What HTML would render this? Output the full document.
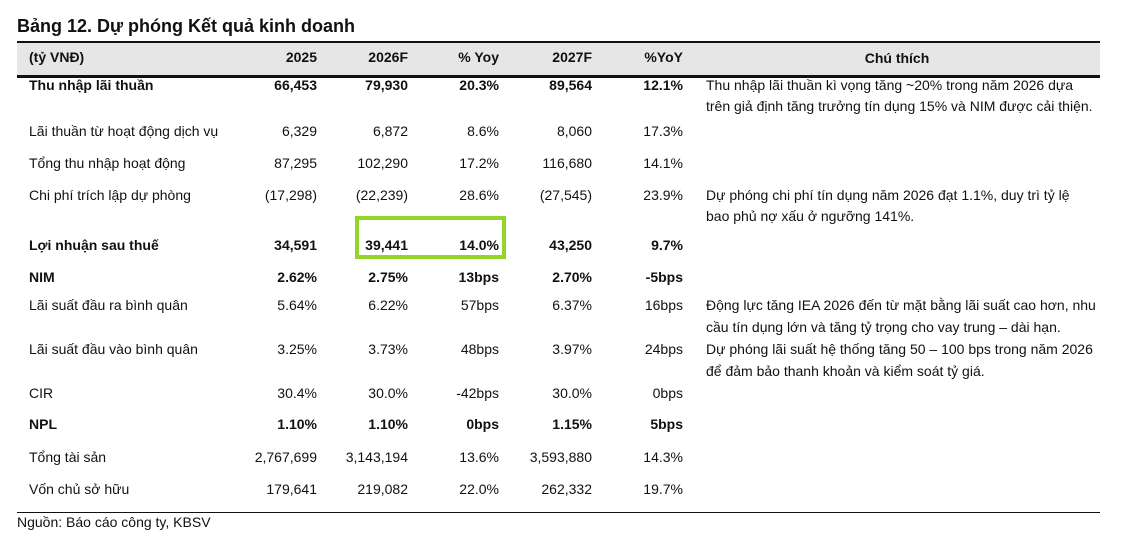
<!DOCTYPE html>
<html><head><meta charset="utf-8"><style>
body{margin:0;width:1137px;height:547px;background:#fff;position:relative;overflow:hidden;font-family:"Liberation Sans Narrow","Liberation Sans",sans-serif;color:#111;font-size:14px}
div{position:absolute;white-space:nowrap;line-height:20px}
.r{text-align:right}
.b{font-weight:bold}
</style></head><body>
<div style="left:17px;top:15px;font-size:18px;font-weight:bold;line-height:22px">Bảng 12. Dự phóng Kết quả kinh doanh</div>
<div style="left:17px;top:41px;width:1083px;height:32px;background:#e6e6e6;border-top:2px solid #111;border-bottom:3px solid #111;"></div>
<div style="left:17px;top:512px;width:1083px;height:1px;background:#111"></div>
<div style="left:355px;top:216px;width:143px;height:35px;border:4px solid #95d52a"></div>

<div class="b" style="left:29px;top:47px">(tỷ VNĐ)</div>
<div class="b r" style="left:217px;width:100px;top:47px">2025</div>
<div class="b r" style="left:308px;width:100px;top:47px">2026F</div>
<div class="b r" style="left:399px;width:100px;top:47px">% Yoy</div>
<div class="b r" style="left:492px;width:100px;top:47px">2027F</div>
<div class="b r" style="left:583px;width:100px;top:47px">%YoY</div>
<div class="b" style="left:797px;width:200px;top:48px;text-align:center">Chú thích</div>

<div id="rows"></div>
<script>
var rows=[
[85,1,"Thu nhập lãi thuần","66,453","79,930","20.3%","89,564","12.1%"],
[131,0,"Lãi thuần từ hoạt động dịch vụ","6,329","6,872","8.6%","8,060","17.3%"],
[163,0,"Tổng thu nhập hoạt động","87,295","102,290","17.2%","116,680","14.1%"],
[195,0,"Chi phí trích lập dự phòng","(17,298)","(22,239)","28.6%","(27,545)","23.9%"],
[245,1,"Lợi nhuận sau thuế","34,591","39,441","14.0%","43,250","9.7%"],
[277,1,"NIM","2.62%","2.75%","13bps","2.70%","-5bps"],
[305,0,"Lãi suất đầu ra bình quân","5.64%","6.22%","57bps","6.37%","16bps"],
[349,0,"Lãi suất đầu vào bình quân","3.25%","3.73%","48bps","3.97%","24bps"],
[393,0,"CIR","30.4%","30.0%","-42bps","30.0%","0bps"],
[424,1,"NPL","1.10%","1.10%","0bps","1.15%","5bps"],
[457,0,"Tổng tài sản","2,767,699","3,143,194","13.6%","3,593,880","14.3%"],
[489,0,"Vốn chủ sở hữu","179,641","219,082","22.0%","262,332","19.7%"]];
var ends=[317,408,499,592,683],h="";
rows.forEach(function(r){var t=r[0]-10,c=r[1]?" b":"";
h+='<div class="'+c+'" style="left:29px;top:'+t+'px">'+r[2]+'</div>';
for(var i=0;i<5;i++)h+='<div class="r'+c+'" style="left:'+(ends[i]-110)+'px;width:110px;top:'+t+'px">'+r[3+i]+'</div>';});
var notes=[[85,"Thu nhập lãi thuần kì vọng tăng ~20% trong năm 2026 dựa"],[106,"trên giả định tăng trưởng tín dụng 15% và NIM được cải thiện."],
[195,"Dự phóng chi phí tín dụng năm 2026 đạt 1.1%, duy trì tỷ lệ"],[216,"bao phủ nợ xấu ở ngưỡng 141%."],
[305,"Động lực tăng IEA 2026 đến từ mặt bằng lãi suất cao hơn, nhu"],[327,"cầu tín dụng lớn và tăng tỷ trọng cho vay trung – dài hạn."],
[349,"Dự phóng lãi suất hệ thống tăng 50 – 100 bps trong năm 2026"],[371,"để đảm bảo thanh khoản và kiểm soát tỷ giá."]];
notes.forEach(function(n){h+='<div style="left:706px;top:'+(n[0]-10)+'px">'+n[1]+'</div>';});
h+='<div style="left:17px;top:512px">Nguồn: Báo cáo công ty, KBSV</div>';
document.getElementById("rows").outerHTML=h;
</script>
</body></html>
